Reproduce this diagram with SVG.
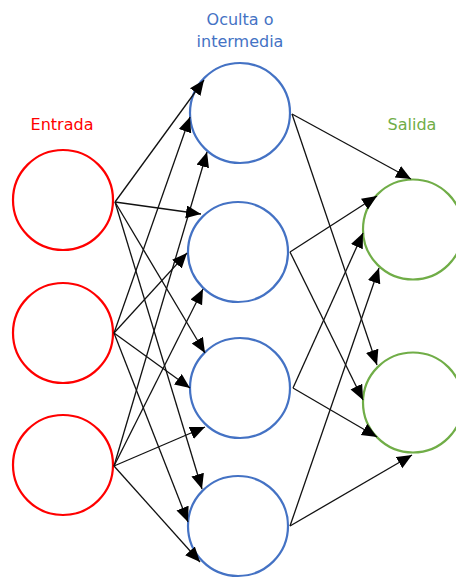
<svg xmlns="http://www.w3.org/2000/svg" width="456" height="579" viewBox="0 0 456 579">
<style>
.lbl{font-family:"DejaVu Sans","Liberation Sans",sans-serif;font-size:16px;text-anchor:middle}
.in{fill:none;stroke:#FF0000;stroke-width:2.2}
.hid{fill:none;stroke:#4472C4;stroke-width:2.2}
.out{fill:none;stroke:#70AD47;stroke-width:2.2}
.c line{stroke:#111;stroke-width:1.3;marker-end:url(#ah)}
</style>
<defs>
<marker id="ah" markerUnits="userSpaceOnUse" markerWidth="16" markerHeight="14" refX="15" refY="6.5" orient="auto" viewBox="0 0 16 14">
<path d="M0,0 L15,6.5 L0,13 z" fill="#000"/>
</marker>
</defs>
<rect width="456" height="579" fill="#fff"/>
<text class="lbl" x="240" y="25" fill="#4472C4">Oculta o</text>
<text class="lbl" x="240" y="47" fill="#4472C4">intermedia</text>
<text class="lbl" x="62" y="130" fill="#FF0000">Entrada</text>
<text class="lbl" x="412" y="130" fill="#70AD47">Salida</text>
<g id="in1"><circle class="in" cx="63" cy="200" r="50"/></g>
<g id="in2"><circle class="in" cx="63" cy="333" r="50"/></g>
<g id="in3"><circle class="in" cx="63" cy="465" r="50"/></g>
<g id="h1"><circle class="hid" cx="240" cy="113" r="50"/></g>
<g id="h2"><circle class="hid" cx="238" cy="252" r="50"/></g>
<g id="h3"><circle class="hid" cx="240" cy="388" r="50"/></g>
<g id="h4"><circle class="hid" cx="238" cy="526" r="50"/></g>
<g id="o1"><circle class="out" cx="413" cy="229.5" r="50"/></g>
<g id="o2"><circle class="out" cx="413" cy="402.5" r="50"/></g>
<g id="connectors" class="c">
<line x1="115" y1="202" x2="204" y2="80"/>
<line x1="114" y1="333" x2="190" y2="117"/>
<line x1="114" y1="466" x2="207" y2="152"/>
<line x1="115" y1="202" x2="201" y2="214"/>
<line x1="114" y1="333" x2="187" y2="253"/>
<line x1="114" y1="466" x2="203" y2="289"/>
<line x1="115" y1="202" x2="205" y2="353"/>
<line x1="114" y1="333" x2="190" y2="388"/>
<line x1="114" y1="466" x2="205" y2="427"/>
<line x1="115" y1="202" x2="202" y2="489"/>
<line x1="114" y1="333" x2="188" y2="522"/>
<line x1="114" y1="466" x2="200" y2="562"/>
<line x1="292" y1="114" x2="411" y2="179"/>
<line x1="292" y1="114" x2="377" y2="365"/>
<line x1="290" y1="252" x2="377" y2="196"/>
<line x1="290" y1="252" x2="363" y2="400"/>
<line x1="293" y1="388" x2="363" y2="233"/>
<line x1="293" y1="388" x2="377" y2="437"/>
<line x1="290" y1="526" x2="379" y2="268"/>
<line x1="290" y1="526" x2="412" y2="455"/>
</g>
</svg>
